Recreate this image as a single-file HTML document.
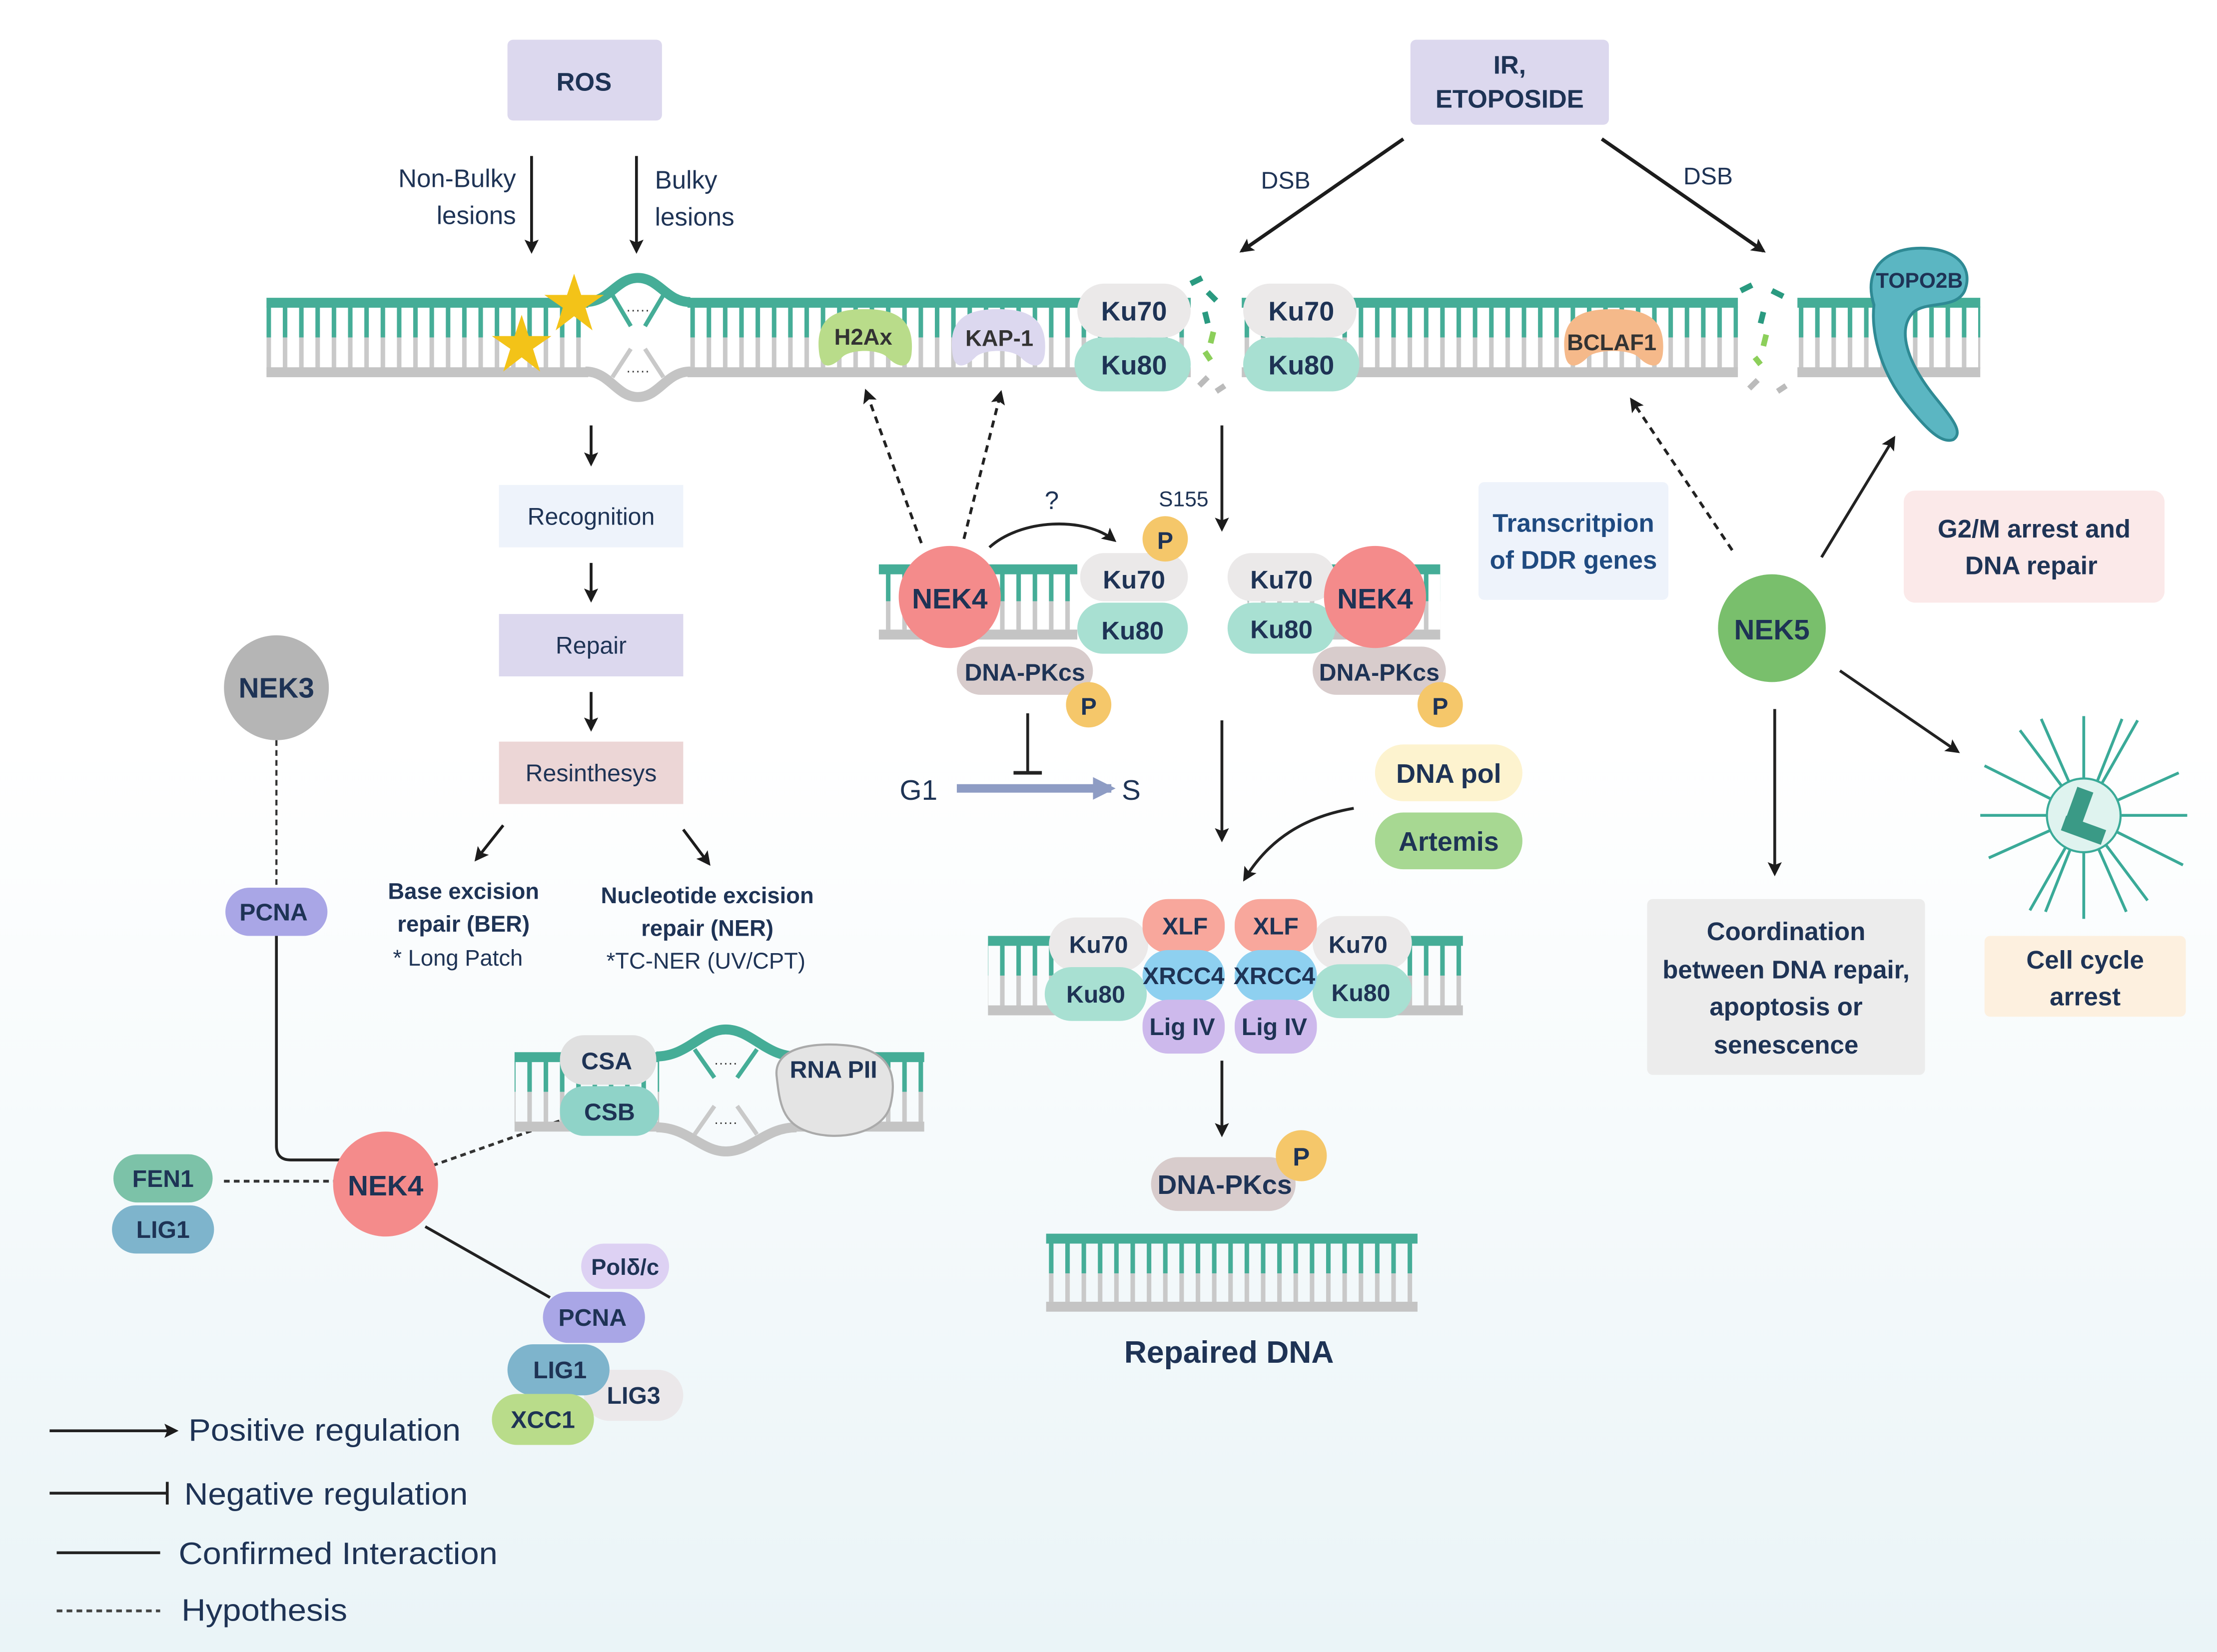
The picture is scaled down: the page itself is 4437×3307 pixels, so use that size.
<!DOCTYPE html>
<html><head><meta charset="utf-8"><style>
html,body{margin:0;padding:0;background:#fff}
svg{display:block}
text{font-family:"Liberation Sans",sans-serif;fill:#1e3355}
.b{font-weight:bold}
</style></head><body>
<svg width="4437" height="3307" viewBox="0 0 1564 1165" preserveAspectRatio="none" xmlns="http://www.w3.org/2000/svg">
<defs>
<linearGradient id="bg" x1="0" y1="0" x2="0" y2="1">
<stop offset="0" stop-color="#ffffff"/><stop offset="0.45" stop-color="#ffffff"/><stop offset="1" stop-color="#eaf4f7"/>
</linearGradient>
<pattern id="rt" patternUnits="userSpaceOnUse" width="11.5" height="2000"><rect x="4" y="0" width="3.2" height="2000" fill="#45ad97"/></pattern>
<pattern id="rg" patternUnits="userSpaceOnUse" width="11.5" height="2000"><rect x="4" y="0" width="3.2" height="2000" fill="#c9c9c9"/></pattern>
<marker id="ar" markerWidth="10" markerHeight="10" refX="8" refY="5" orient="auto" markerUnits="userSpaceOnUse"><path d="M0,0 L10,5 L0,10 L2,5Z" fill="#1c1c1c"/></marker>
<marker id="arb" markerWidth="16" markerHeight="16" refX="13" refY="8" orient="auto" markerUnits="userSpaceOnUse"><path d="M0,0 L16,8 L0,16Z" fill="#8e9cc4"/></marker>
</defs>
<rect x="0" y="0" width="1564" height="1165" fill="url(#bg)"/>

<!-- Top boxes -->
<rect x="358" y="28" width="109" height="57" rx="4" fill="#dcd8ee"/>
<text x="412" y="64" font-size="18" class="b" text-anchor="middle">ROS</text>
<rect x="995" y="28" width="140" height="60" rx="4" fill="#dcd8ee"/>
<text x="1065" y="52" font-size="18" class="b" text-anchor="middle">IR,</text>
<text x="1065" y="76" font-size="18" class="b" text-anchor="middle">ETOPOSIDE</text>

<!-- lesion arrows -->
<line x1="375" y1="110" x2="375" y2="177" stroke="#1c1c1c" stroke-width="2" marker-end="url(#ar)"/>
<line x1="449" y1="110" x2="449" y2="177" stroke="#1c1c1c" stroke-width="2" marker-end="url(#ar)"/>
<text x="364" y="132" font-size="18" text-anchor="end">Non-Bulky</text>
<text x="364" y="158" font-size="18" text-anchor="end">lesions</text>
<text x="462" y="133" font-size="18">Bulky</text>
<text x="462" y="159" font-size="18">lesions</text>
<line x1="990" y1="98" x2="876" y2="177" stroke="#1c1c1c" stroke-width="2.5" marker-end="url(#ar)"/>
<line x1="1130" y1="98" x2="1244" y2="177" stroke="#1c1c1c" stroke-width="2.5" marker-end="url(#ar)"/>
<text x="907" y="133" font-size="17" text-anchor="middle">DSB</text>
<text x="1205" y="130" font-size="17" text-anchor="middle">DSB</text>

<!-- main DNA -->
<g>
<rect x="188" y="216" width="227" height="22" fill="url(#rt)"/><rect x="188" y="238" width="227" height="22" fill="url(#rg)"/>
<rect x="485" y="216" width="355" height="22" fill="url(#rt)"/><rect x="485" y="238" width="355" height="22" fill="url(#rg)"/>
<rect x="876" y="216" width="350" height="22" fill="url(#rt)"/><rect x="876" y="238" width="350" height="22" fill="url(#rg)"/>
<rect x="1268" y="216" width="129" height="22" fill="url(#rt)"/><rect x="1268" y="238" width="129" height="22" fill="url(#rg)"/>
<rect x="188" y="210" width="227" height="7" fill="#45ad97"/><rect x="485" y="210" width="355" height="7" fill="#45ad97"/>
<rect x="876" y="210" width="350" height="7" fill="#45ad97"/><rect x="1268" y="210" width="129" height="7" fill="#45ad97"/>
<rect x="188" y="259" width="227" height="7" fill="#c4c4c4"/><rect x="485" y="259" width="355" height="7" fill="#c4c4c4"/>
<rect x="876" y="259" width="350" height="7" fill="#c4c4c4"/><rect x="1268" y="259" width="129" height="7" fill="#c4c4c4"/>
<path d="M413,213 C430,213 435,196 450,196 C465,196 470,213 487,213" fill="none" stroke="#45ad97" stroke-width="7"/>
<path d="M413,262 C430,262 435,280 450,280 C465,280 470,262 487,262" fill="none" stroke="#c4c4c4" stroke-width="7"/>
<path d="M432,208 L445,230 M468,208 L455,230" stroke="#45ad97" stroke-width="3"/>
<path d="M432,266 L445,246 M468,266 L455,246" stroke="#c9c9c9" stroke-width="3"/>
<text x="450" y="222" font-size="10" text-anchor="middle" style="fill:#333">·····</text>
<text x="450" y="265" font-size="10" text-anchor="middle" style="fill:#333">·····</text>
</g>
<path d="M405,193 l5,15 16,0 -13,9 5,16 -13,-10 -13,10 5,-16 -13,-9 16,0z" fill="#f3c318"/>
<path d="M368,222 l5,15 16,0 -13,9 5,16 -13,-10 -13,10 5,-16 -13,-9 16,0z" fill="#f3c318"/>

<!-- break marks -->
<g stroke-width="4" fill="none">
<path d="M840,200 l8,-4 M852,206 l6,6 M850,220 l2,8" stroke="#2a9a80"/>
<path d="M856,234 l-2,8 M850,248 l4,6" stroke="#8ccf5a"/>
<path d="M846,272 l6,-6 M858,276 l6,-4" stroke="#bbbbbb"/>
<path d="M1228,205 l8,-4 M1250,205 l8,4 M1244,220 l-2,8" stroke="#2a9a80"/>
<path d="M1246,236 l-2,8 M1238,252 l4,5" stroke="#8ccf5a"/>
<path d="M1234,274 l6,-6 M1254,276 l6,-4" stroke="#bbbbbb"/>
</g>

<!-- H2Ax, KAP-1, BCLAF1 -->
<path d="M578,250 C574,222 592,218 610,218 C628,218 646,222 643,250 C641,262 632,258 626,252 C620,246 600,246 594,252 C588,258 580,262 578,250Z" fill="#b9dc8a"/>
<text x="609" y="243" font-size="16" class="b" text-anchor="middle" style="fill:#333">H2Ax</text>
<path d="M672,250 C668,222 686,218 704,218 C722,218 740,222 737,250 C735,262 726,258 720,252 C714,246 694,246 688,252 C682,258 674,262 672,250Z" fill="#dcd8ef"/>
<text x="705" y="244" font-size="16" class="b" text-anchor="middle" style="fill:#333">KAP-1</text>
<path d="M1104,250 C1100,222 1118,218 1138,218 C1158,218 1176,222 1173,250 C1171,262 1162,258 1156,252 C1150,246 1126,246 1120,252 C1114,258 1106,262 1104,250Z" fill="#f5b98a"/>
<text x="1137" y="247" font-size="16" class="b" text-anchor="middle" style="fill:#333">BCLAF1</text>

<!-- Ku top -->
<rect x="760" y="200" width="80" height="38" rx="19" fill="#ebe9e9"/><text x="800" y="226" font-size="19" class="b" text-anchor="middle">Ku70</text>
<rect x="758" y="238" width="82" height="38" rx="19" fill="#a8e0d2"/><text x="800" y="264" font-size="19" class="b" text-anchor="middle">Ku80</text>
<rect x="877" y="200" width="80" height="38" rx="19" fill="#ebe9e9"/><text x="918" y="226" font-size="19" class="b" text-anchor="middle">Ku70</text>
<rect x="877" y="238" width="82" height="38" rx="19" fill="#a8e0d2"/><text x="918" y="264" font-size="19" class="b" text-anchor="middle">Ku80</text>

<!-- TOPO2B -->
<path d="M1322,215 C1314,190 1330,175 1355,175 C1382,175 1392,190 1386,205 C1380,218 1360,212 1350,220 C1338,232 1345,255 1365,280 C1378,296 1385,305 1378,310 C1370,313 1360,304 1345,285 C1325,260 1320,232 1322,215Z" fill="#5bb6c2" stroke="#2f8a94" stroke-width="2"/>
<text x="1354" y="203" font-size="15" class="b" text-anchor="middle">TOPO2B</text>

<!-- ROS pathway -->
<line x1="417" y1="300" x2="417" y2="327" stroke="#1c1c1c" stroke-width="2" marker-end="url(#ar)"/>
<rect x="352" y="342" width="130" height="44" fill="#eef3fb"/><text x="417" y="370" font-size="17" text-anchor="middle">Recognition</text>
<line x1="417" y1="397" x2="417" y2="423" stroke="#1c1c1c" stroke-width="2" marker-end="url(#ar)"/>
<rect x="352" y="433" width="130" height="44" fill="#dcd8ee"/><text x="417" y="461" font-size="17" text-anchor="middle">Repair</text>
<line x1="417" y1="488" x2="417" y2="514" stroke="#1c1c1c" stroke-width="2" marker-end="url(#ar)"/>
<rect x="352" y="523" width="130" height="44" fill="#ecd6d6"/><text x="417" y="551" font-size="17" text-anchor="middle">Resinthesys</text>
<line x1="355" y1="582" x2="336" y2="606" stroke="#1c1c1c" stroke-width="2" marker-end="url(#ar)"/>
<line x1="482" y1="585" x2="500" y2="609" stroke="#1c1c1c" stroke-width="2" marker-end="url(#ar)"/>
<text x="327" y="634" font-size="16" class="b" text-anchor="middle">Base excision</text>
<text x="327" y="657" font-size="16" class="b" text-anchor="middle">repair (BER)</text>
<text x="323" y="681" font-size="16" text-anchor="middle">* Long Patch</text>
<text x="499" y="637" font-size="16" class="b" text-anchor="middle">Nucleotide excision</text>
<text x="499" y="660" font-size="16" class="b" text-anchor="middle">repair (NER)</text>
<text x="498" y="683" font-size="16" text-anchor="middle">*TC-NER (UV/CPT)</text>

<!-- NEK3 / left -->
<circle cx="195" cy="485" r="37" fill="#b5b5b5"/><text x="195" y="492" font-size="20" class="b" text-anchor="middle">NEK3</text>
<line x1="195" y1="522" x2="195" y2="627" stroke="#333" stroke-width="1.5" stroke-dasharray="4,3"/>
<rect x="159" y="626" width="72" height="34" rx="17" fill="#a9a6e6"/><text x="193" y="649" font-size="17" class="b" text-anchor="middle">PCNA</text>
<path d="M195,660 L195,808 Q195,818 205,818 L240,818" fill="none" stroke="#222" stroke-width="2"/>
<line x1="158" y1="833" x2="236" y2="833" stroke="#333" stroke-width="2" stroke-dasharray="4,3"/>
<line x1="305" y1="822" x2="396" y2="790" stroke="#333" stroke-width="2" stroke-dasharray="4,3"/>
<line x1="300" y1="865" x2="388" y2="915" stroke="#222" stroke-width="2"/>
<circle cx="272" cy="835" r="37" fill="#f48b8b"/><text x="272" y="843" font-size="20" class="b" text-anchor="middle">NEK4</text>
<rect x="80" y="814" width="70" height="34" rx="17" fill="#7cc2a8"/><text x="115" y="837" font-size="17" class="b" text-anchor="middle">FEN1</text>
<rect x="79" y="850" width="72" height="34" rx="17" fill="#7eb4cc"/><text x="115" y="873" font-size="17" class="b" text-anchor="middle">LIG1</text>
<rect x="410" y="877" width="62" height="32" rx="16" fill="#ddd1f3"/><text x="441" y="899" font-size="16" class="b" text-anchor="middle">Polδ/c</text>
<rect x="383" y="911" width="72" height="36" rx="18" fill="#a9a6e6"/><text x="418" y="935" font-size="17" class="b" text-anchor="middle">PCNA</text>
<rect x="412" y="966" width="70" height="36" rx="18" fill="#ebe8ea"/><text x="447" y="990" font-size="17" class="b" text-anchor="middle">LIG3</text>
<rect x="358" y="948" width="72" height="36" rx="18" fill="#7eb4cc"/><text x="395" y="972" font-size="17" class="b" text-anchor="middle">LIG1</text>
<rect x="347" y="983" width="72" height="36" rx="18" fill="#b9dc8a"/><text x="383" y="1007" font-size="17" class="b" text-anchor="middle">XCC1</text>

<!-- NER DNA -->
<g>
<rect x="363" y="748" width="102" height="22" fill="url(#rt)"/><rect x="363" y="770" width="102" height="22" fill="url(#rg)"/>
<rect x="560" y="748" width="92" height="22" fill="url(#rt)"/><rect x="560" y="770" width="92" height="22" fill="url(#rg)"/>
<rect x="363" y="742" width="102" height="7" fill="#45ad97"/><rect x="560" y="742" width="92" height="7" fill="#45ad97"/>
<rect x="363" y="791" width="102" height="7" fill="#c4c4c4"/><rect x="560" y="791" width="92" height="7" fill="#c4c4c4"/>
<path d="M463,745 C485,745 495,726 512,726 C530,726 540,745 562,745" fill="none" stroke="#45ad97" stroke-width="7"/>
<path d="M463,795 C485,795 495,812 512,812 C530,812 540,795 562,795" fill="none" stroke="#c4c4c4" stroke-width="7"/>
<path d="M490,740 L504,760 M534,740 L520,760" stroke="#45ad97" stroke-width="3"/>
<path d="M490,800 L504,780 M534,800 L520,780" stroke="#c9c9c9" stroke-width="3"/>
<text x="512" y="753" font-size="10" text-anchor="middle" style="fill:#333">·····</text>
<text x="512" y="795" font-size="10" text-anchor="middle" style="fill:#333">·····</text>
</g>
<rect x="395" y="730" width="68" height="35" rx="17" fill="#e0e0e0"/><text x="428" y="754" font-size="17" class="b" text-anchor="middle">CSA</text>
<rect x="395" y="766" width="70" height="35" rx="17" fill="#8fd3c8"/><text x="430" y="790" font-size="17" class="b" text-anchor="middle">CSB</text>
<path d="M548,760 C545,740 570,735 595,737 C622,739 635,752 628,780 C622,800 590,805 570,798 C552,792 550,778 548,760Z" fill="#e4e4e4" stroke="#aaa" stroke-width="1.5"/>
<text x="588" y="760" font-size="17" class="b" text-anchor="middle">RNA PII</text>

<!-- Middle NEK4 complex -->
<g>
<rect x="620" y="404" width="140" height="20" fill="url(#rt)"/><rect x="620" y="424" width="140" height="20" fill="url(#rg)"/>
<rect x="620" y="398" width="140" height="7" fill="#45ad97"/><rect x="620" y="444" width="140" height="7" fill="#c4c4c4"/>
<rect x="880" y="404" width="136" height="20" fill="url(#rt)"/><rect x="880" y="424" width="136" height="20" fill="url(#rg)"/>
<rect x="880" y="398" width="136" height="7" fill="#45ad97"/><rect x="880" y="444" width="136" height="7" fill="#c4c4c4"/>
</g>
<line x1="650" y1="383" x2="611" y2="276" stroke="#222" stroke-width="2" stroke-dasharray="5,4" marker-end="url(#ar)"/>
<line x1="680" y1="380" x2="706" y2="277" stroke="#222" stroke-width="2" stroke-dasharray="5,4" marker-end="url(#ar)"/>
<path d="M698,386 C720,366 765,364 786,381" fill="none" stroke="#222" stroke-width="2" marker-end="url(#ar)"/>
<text x="742" y="359" font-size="18" text-anchor="middle">?</text>
<text x="835" y="357" font-size="15" text-anchor="middle">S155</text>
<line x1="862" y1="300" x2="862" y2="373" stroke="#222" stroke-width="2" marker-end="url(#ar)"/>
<rect x="675" y="456" width="96" height="34" rx="17" fill="#d8cccc"/><text x="723" y="480" font-size="17" class="b" text-anchor="middle">DNA-PKcs</text>
<rect x="762" y="390" width="76" height="34" rx="17" fill="#ebe9e9"/><text x="800" y="415" font-size="18" class="b" text-anchor="middle">Ku70</text>
<rect x="760" y="425" width="78" height="36" rx="18" fill="#a8e0d2"/><text x="799" y="451" font-size="18" class="b" text-anchor="middle">Ku80</text>
<circle cx="670" cy="421" r="36" fill="#f48b8b"/><text x="670" y="429" font-size="20" class="b" text-anchor="middle">NEK4</text>
<circle cx="822" cy="380" r="16" fill="#f5c76a"/><text x="822" y="387" font-size="17" class="b" text-anchor="middle">P</text>
<circle cx="768" cy="497" r="16" fill="#f5c76a"/><text x="768" y="504" font-size="17" class="b" text-anchor="middle">P</text>
<rect x="926" y="456" width="94" height="34" rx="17" fill="#d8cccc"/><text x="973" y="480" font-size="17" class="b" text-anchor="middle">DNA-PKcs</text>
<rect x="866" y="390" width="76" height="34" rx="17" fill="#ebe9e9"/><text x="904" y="415" font-size="18" class="b" text-anchor="middle">Ku70</text>
<rect x="866" y="425" width="76" height="36" rx="18" fill="#a8e0d2"/><text x="904" y="450" font-size="18" class="b" text-anchor="middle">Ku80</text>
<circle cx="970" cy="421" r="36" fill="#f48b8b"/><text x="970" y="429" font-size="20" class="b" text-anchor="middle">NEK4</text>
<circle cx="1016" cy="497" r="16" fill="#f5c76a"/><text x="1016" y="504" font-size="17" class="b" text-anchor="middle">P</text>

<line x1="725" y1="503" x2="725" y2="545" stroke="#222" stroke-width="2"/>
<line x1="715" y1="545" x2="735" y2="545" stroke="#222" stroke-width="2.5"/>
<text x="648" y="564" font-size="20" text-anchor="middle">G1</text>
<line x1="675" y1="556" x2="784" y2="556" stroke="#8e9cc4" stroke-width="6" marker-end="url(#arb)"/>
<text x="798" y="564" font-size="20" text-anchor="middle">S</text>
<line x1="862" y1="508" x2="862" y2="592" stroke="#222" stroke-width="2" marker-end="url(#ar)"/>

<rect x="970" y="525" width="104" height="40" rx="20" fill="#fdf3cf"/><text x="1022" y="552" font-size="19" class="b" text-anchor="middle">DNA pol</text>
<rect x="970" y="573" width="104" height="40" rx="20" fill="#a7d892"/><text x="1022" y="600" font-size="19" class="b" text-anchor="middle">Artemis</text>
<path d="M955,570 C920,576 895,592 878,620" fill="none" stroke="#222" stroke-width="2" marker-end="url(#ar)"/>

<!-- NHEJ complex -->
<g>
<rect x="697" y="666" width="60" height="22" fill="url(#rt)"/><rect x="697" y="688" width="60" height="22" fill="url(#rg)"/>
<rect x="697" y="660" width="60" height="7" fill="#45ad97"/><rect x="697" y="709" width="60" height="7" fill="#c4c4c4"/>
<rect x="980" y="666" width="52" height="22" fill="url(#rt)"/><rect x="980" y="688" width="52" height="22" fill="url(#rg)"/>
<rect x="980" y="660" width="52" height="7" fill="#45ad97"/><rect x="980" y="709" width="52" height="7" fill="#c4c4c4"/>
</g>
<rect x="740" y="647" width="70" height="38" rx="19" fill="#ebe9e9"/><text x="775" y="672" font-size="17" class="b" text-anchor="middle">Ku70</text>
<rect x="737" y="682" width="72" height="38" rx="19" fill="#a8e0d2"/><text x="773" y="707" font-size="17" class="b" text-anchor="middle">Ku80</text>
<rect x="926" y="646" width="70" height="38" rx="19" fill="#ebe9e9"/><text x="958" y="672" font-size="17" class="b" text-anchor="middle">Ku70</text>
<rect x="926" y="680" width="70" height="38" rx="19" fill="#a8e0d2"/><text x="960" y="706" font-size="17" class="b" text-anchor="middle">Ku80</text>
<rect x="806" y="634" width="58" height="38" rx="18" fill="#f8a79c"/><text x="836" y="659" font-size="17" class="b" text-anchor="middle">XLF</text>
<rect x="806" y="670" width="58" height="36" rx="18" fill="#8ed0f0"/><text x="835" y="694" font-size="17" class="b" text-anchor="middle">XRCC4</text>
<rect x="806" y="705" width="58" height="38" rx="18" fill="#cdb9ec"/><text x="834" y="730" font-size="17" class="b" text-anchor="middle">Lig IV</text>
<rect x="871" y="634" width="58" height="38" rx="18" fill="#f8a79c"/><text x="900" y="659" font-size="17" class="b" text-anchor="middle">XLF</text>
<rect x="871" y="670" width="58" height="36" rx="18" fill="#8ed0f0"/><text x="899" y="694" font-size="17" class="b" text-anchor="middle">XRCC4</text>
<rect x="871" y="705" width="58" height="38" rx="18" fill="#cdb9ec"/><text x="899" y="730" font-size="17" class="b" text-anchor="middle">Lig IV</text>
<line x1="862" y1="748" x2="862" y2="800" stroke="#222" stroke-width="2" marker-end="url(#ar)"/>

<rect x="812" y="816" width="102" height="38" rx="19" fill="#d8cccc"/><text x="864" y="842" font-size="19" class="b" text-anchor="middle">DNA-PKcs</text>
<circle cx="918" cy="815" r="18" fill="#f5c76a"/><text x="918" y="822" font-size="18" class="b" text-anchor="middle">P</text>
<g>
<rect x="738" y="876" width="262" height="22" fill="url(#rt)"/><rect x="738" y="898" width="262" height="22" fill="url(#rg)"/>
<rect x="738" y="870" width="262" height="7" fill="#45ad97"/><rect x="738" y="918" width="262" height="7" fill="#c4c4c4"/>
</g>
<text x="867" y="961" font-size="22" class="b" text-anchor="middle">Repaired DNA</text>

<!-- Right side -->
<rect x="1043" y="340" width="134" height="83" rx="4" fill="#eef3fb"/>
<text x="1110" y="375" font-size="18" class="b" text-anchor="middle" style="fill:#1f4a80">Transcritpion</text>
<text x="1110" y="401" font-size="18" class="b" text-anchor="middle" style="fill:#1f4a80">of DDR genes</text>
<rect x="1343" y="346" width="184" height="79" rx="8" fill="#fbe9e9"/>
<text x="1435" y="379" font-size="18" class="b" text-anchor="middle">G2/M arrest and</text>
<text x="1433" y="405" font-size="18" class="b" text-anchor="middle">DNA repair</text>
<line x1="1222" y1="388" x2="1151" y2="282" stroke="#222" stroke-width="2" stroke-dasharray="5,4" marker-end="url(#ar)"/>
<line x1="1285" y1="393" x2="1336" y2="309" stroke="#222" stroke-width="2" marker-end="url(#ar)"/>
<line x1="1298" y1="473" x2="1381" y2="530" stroke="#222" stroke-width="2" marker-end="url(#ar)"/>
<line x1="1252" y1="500" x2="1252" y2="616" stroke="#222" stroke-width="2" marker-end="url(#ar)"/>
<circle cx="1250" cy="443" r="38" fill="#79bf6c"/><text x="1250" y="451" font-size="20" class="b" text-anchor="middle">NEK5</text>
<rect x="1162" y="634" width="196" height="124" rx="4" fill="#ececec"/>
<text x="1260" y="663" font-size="18" class="b" text-anchor="middle">Coordination</text>
<text x="1260" y="690" font-size="18" class="b" text-anchor="middle">between DNA repair,</text>
<text x="1260" y="716" font-size="18" class="b" text-anchor="middle">apoptosis or</text>
<text x="1260" y="743" font-size="18" class="b" text-anchor="middle">senescence</text>
<g stroke="#3aaa98" stroke-width="2">
<line x1="1397" y1="575" x2="1543" y2="575"/><line x1="1470" y1="505" x2="1470" y2="648"/>
<line x1="1425" y1="515" x2="1515" y2="635"/><line x1="1508" y1="508" x2="1432" y2="642"/>
<line x1="1400" y1="540" x2="1540" y2="610"/><line x1="1537" y1="545" x2="1403" y2="605"/>
<line x1="1440" y1="507" x2="1500" y2="643"/><line x1="1497" y1="507" x2="1443" y2="643"/>
</g>
<circle cx="1470" cy="575" r="26" fill="#dff3ef" stroke="#3aaa98" stroke-width="1.5"/>
<rect x="1460" y="556" width="12" height="30" fill="#3a9a86" transform="rotate(20 1466 571)"/>
<rect x="1455" y="580" width="30" height="11" fill="#3a9a86" transform="rotate(20 1470 585)"/>
<rect x="1400" y="660" width="142" height="57" rx="4" fill="#fdf0df"/>
<text x="1471" y="683" font-size="18" class="b" text-anchor="middle">Cell cycle</text>
<text x="1471" y="709" font-size="18" class="b" text-anchor="middle">arrest</text>

<!-- Legend -->
<line x1="35" y1="1009" x2="124" y2="1009" stroke="#222" stroke-width="2" marker-end="url(#ar)"/>
<text x="133" y="1016" font-size="22" textLength="192" lengthAdjust="spacingAndGlyphs">Positive regulation</text>
<line x1="35" y1="1053" x2="118" y2="1053" stroke="#222" stroke-width="2"/>
<line x1="118" y1="1045" x2="118" y2="1061" stroke="#222" stroke-width="2"/>
<text x="130" y="1061" font-size="22" textLength="200" lengthAdjust="spacingAndGlyphs">Negative regulation</text>
<line x1="40" y1="1095" x2="113" y2="1095" stroke="#222" stroke-width="2"/>
<text x="126" y="1103" font-size="22" textLength="225" lengthAdjust="spacingAndGlyphs">Confirmed Interaction</text>
<line x1="40" y1="1136" x2="113" y2="1136" stroke="#444" stroke-width="2" stroke-dasharray="4,3"/>
<text x="128" y="1143" font-size="22" textLength="117" lengthAdjust="spacingAndGlyphs">Hypothesis</text>
</svg>
</body></html>
